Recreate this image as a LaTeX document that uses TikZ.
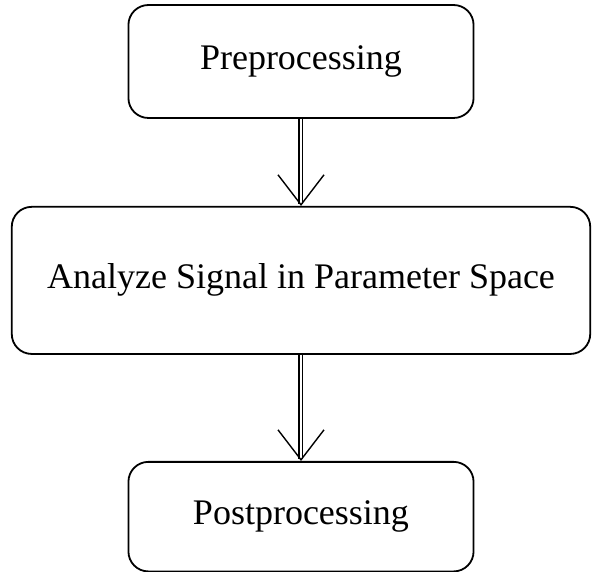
\documentclass[tikz,border=0pt]{standalone}
\usepackage{fontspec}
\setmainfont{Liberation Serif}
\usepackage{tikz}
\usetikzlibrary{arrows.meta, positioning}

\begin{document}
\begin{tikzpicture}[every node/.style={
            draw,
            line width=1.8pt,
            rounded corners=7mm,
            minimum width=12.13cm,
            minimum height=3.97cm,
            align=center,
            font=\fontsize{36}{40}\selectfont},
            >={Straight Barb[length=30pt,width=46pt]}]
            \useasboundingbox (-301pt,61.5pt) rectangle (291pt,-510.5pt);
            \node (pre) at (0,0) {Preprocessing};
            \node[minimum width=20.33cm, minimum height=5.17cm, below=3.06cm of pre] (ana) {Analyze Signal in Parameter Space};
            \node[minimum height=3.85cm, below=3.73cm of ana] (post) {Postprocessing};
            \draw[->, double, double distance=2.2pt, line width=1.4pt] (pre) -- (ana);
            \draw[->, double, double distance=2.2pt, line width=1.4pt] (ana) -- (post);
        \end{tikzpicture}
\end{document}
